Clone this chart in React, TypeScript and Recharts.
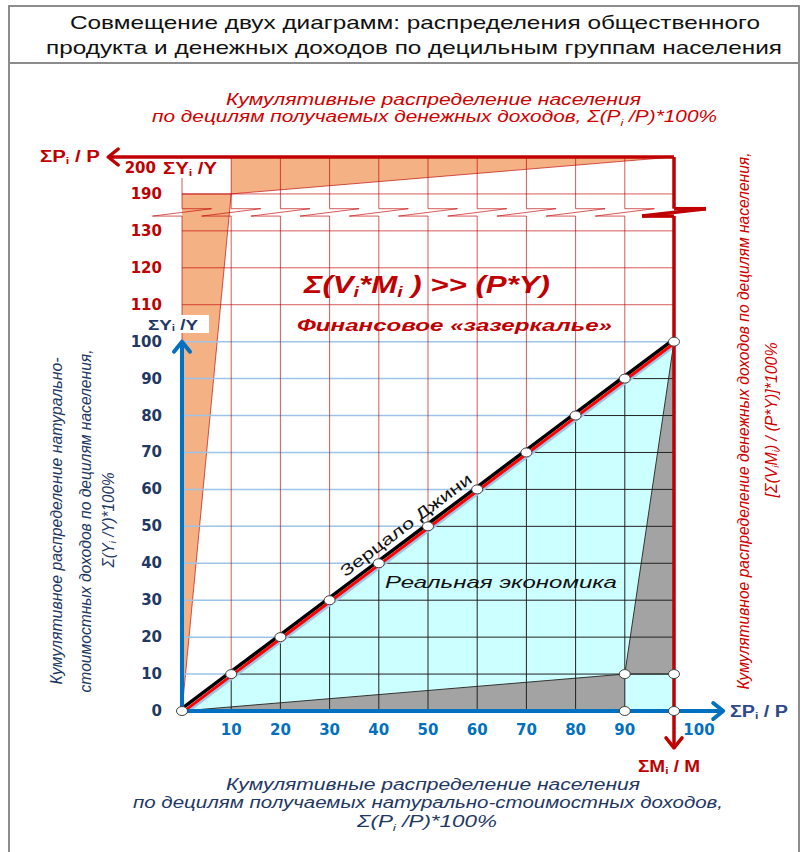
import React from 'react'
import { ComposedChart, XAxis, YAxis, Area, Line, Scatter, ReferenceLine } from 'recharts'

// cumulative share of population by deciles, %
const DECILES = [0, 10, 20, 30, 40, 50, 60, 70, 80, 90, 100]
// "Зерцало Джини" - line of equality, cumulative share of income, %
const EQUALITY = [0, 10, 20, 30, 40, 50, 60, 70, 80, 90, 100]
// grey zone (real economy corners)
const GREY_BOTTOM_X = [0, 90]
const GREY_BOTTOM_Y = [0, 10]
const GREY_RIGHT_X = [90, 100]
const GREY_RIGHT_Y = [10, 100]
const CORNER_X = [90, 100, 90, 100]
const CORNER_Y = [10, 10, 0, 0]
// orange zone (financial "looking-glass"), values on the left scale
const ORANGE_LEFT_X = [0, 10]
const ORANGE_LEFT_Y = [0, 190]
const ORANGE_TOP_X = [10, 100]
const ORANGE_TOP_Y = [190, 200]

// ticks
const LEFT_TICKS = [0, 10, 20, 30, 40, 50, 60, 70, 80, 90, 100, 110, 120, 130, 190, 200]
const RIGHT_TICKS = [0, 40, 50, 60, 70, 80, 90, 100]
const TOP_TICKS = [100, 90, 80, 70, 60, 50, 40, 30, 20, 10, 0]
const BOTTOM_TICKS = [10, 20, 30, 40, 50, 60, 70, 80, 90, 100]
const GRID = [10, 20, 30, 40, 50, 60, 70, 80, 90]
const RED_ROWS = [110, 120, 130, 190]
const RED_COLS = [0, 10, 20, 30, 40, 50, 60, 70, 80, 90]

// left scale is broken between 130 and 190
const leftPos = (v: number) => (v > 150 ? v - 50 : v)
// right scale runs downward, broken between 0 and 40
const rightPos = (v: number) => (v >= 50 ? 2 * (100 - v) : 150 - 0.75 * v)
const TOP = leftPos(200)
const BRK_HI = 136
const BRK_LO = 134
const BRK_W = 6

const NAVY = '#1F3864'
const BLUE = '#0070C0'
const DARK_RED = '#C00000'
const RED_TEXT = '#D00000'
const RED_GRID = 'rgba(192,0,0,0.65)'
const FONT = '"Liberation Sans", Arial, sans-serif'
const TICK_FONT = { fontFamily: '"DejaVu Sans", sans-serif', fontWeight: 700, fontSize: 15 }

const pts = (xs: number[], ys: number[]) => xs.map((x, i) => ({ x, y: ys[i] }))

const diag = pts(DECILES, EQUALITY)
const dots = [...diag, ...pts(CORNER_X, CORNER_Y)]
const cyan = pts(DECILES, EQUALITY).map(p => ({ x: p.x, v: [0, p.y] }))
const greyBottom = GREY_BOTTOM_X.map((x, i) => ({ x, v: [0, GREY_BOTTOM_Y[i]] }))
const greyRight = GREY_RIGHT_X.map((x, i) => ({ x, v: [GREY_BOTTOM_Y[1], GREY_RIGHT_Y[i]] }))
const orangeLeft = ORANGE_LEFT_X.map((x, i) => ({ x, v: [leftPos(ORANGE_LEFT_Y[i]), leftPos(190)] }))
const orangeTop = ORANGE_TOP_X.map((x, i) => ({ x, v: [leftPos(ORANGE_TOP_Y[i]), TOP] }))

function axisShape(color: string, width: number, arrow: boolean) {
  return (p: any) => {
    const { x1, y1, x2, y2 } = p
    let head = null
    if (arrow) {
      const len = Math.hypot(x2 - x1, y2 - y1) || 1
      const ux = (x2 - x1) / len
      const uy = (y2 - y1) / len
      const bx = x2 - ux * 10
      const by = y2 - uy * 10
      head = (
        <path
          d={`M${bx - uy * 8},${by + ux * 8} L${x2},${y2} L${bx + uy * 8},${by - ux * 8}`}
          fill="none" stroke={color} strokeWidth={width} strokeLinecap="round" strokeLinejoin="round"
        />
      )
    }
    return (
      <g>
        <line x1={x1} y1={y1} x2={x2} y2={y2} stroke={color} strokeWidth={width} />
        {head}
      </g>
    )
  }
}

function Seg(a: [number, number], b: [number, number], stroke: string, width = 1, key?: string) {
  return (
    <ReferenceLine
      key={key}
      xAxisId="b"
      yAxisId="l"
      ifOverflow="visible"
      segment={[{ x: a[0], y: a[1] }, { x: b[0], y: b[1] }]}
      stroke={stroke}
      strokeWidth={width}
    />
  )
}

function breakSegs(x: number, stroke: string, width: number, w: number, key: string) {
  return [
    Seg([x, BRK_HI], [x + w, BRK_HI], stroke, width, key + 'a'),
    Seg([x + w, BRK_HI], [x - w, BRK_LO], stroke, width, key + 'b'),
    Seg([x - w, BRK_LO], [x, BRK_LO], stroke, width, key + 'c'),
  ]
}

const LeftTick = (p: any) => {
  const pos = p.payload.value
  const label = LEFT_TICKS.find(v => leftPos(v) === pos)
  const red = (label as number) > 100
  const top = label === 200
  return (
    <text x={top ? p.x - 6 : p.x} y={top ? p.y + 11 : p.y} textAnchor="end" dominantBaseline="central"
      fill={red ? DARK_RED : NAVY} {...TICK_FONT}>{label}</text>
  )
}

const RightTick = (p: any) => {
  const pos = p.payload.value
  const label = RIGHT_TICKS.find(v => rightPos(v) === pos)
  const last = label === 100
  return (
    <text x={last ? p.x - 18 : p.x} y={last ? p.y - 9 : p.y} textAnchor="start" dominantBaseline="central"
      fill={DARK_RED} {...TICK_FONT}>{label}</text>
  )
}

const TopTick = (p: any) => (
  <text x={p.x} y={p.y} textAnchor="middle" dominantBaseline="central" fill={DARK_RED} {...TICK_FONT}>
    {100 - p.payload.value}
  </text>
)

const BottomTick = (p: any) => (
  <text x={p.payload.value === 100 ? p.x + 25 : p.x} y={p.y} textAnchor="middle" dominantBaseline="central"
    fill={BLUE} {...TICK_FONT}>{p.payload.value}</text>
)

const DotShape = (p: any) => (
  <ellipse cx={p.cx} cy={p.cy} rx={5.5} ry={4.5} fill="#fff" stroke="#404040" strokeWidth={1} />
)

function Overlay() {
  const sub = (c: string, size = '0.62em') => [
    <tspan key="s" fontSize={size} dy={4}>{c}</tspan>,
    <tspan key="r" dy={-4}>{''}</tspan>,
  ]
  return (
    <svg width={804} height={852} style={{ position: 'absolute', left: 0, top: 0, pointerEvents: 'none' }}
      fontFamily={FONT}>
      <rect x={9} y={6} width={790} height={870} fill="none" stroke="#8c8c8c" strokeWidth={2} />
      <line x1={9} y1={63} x2={799} y2={63} stroke="#8c8c8c" strokeWidth={2} />
      <text x={70} y={29} fontSize={19} fill="#111" textLength={690} lengthAdjust="spacingAndGlyphs">
        Совмещение двух диаграмм: распределения общественного
      </text>
      <text x={46} y={54} fontSize={19} fill="#111" textLength={736} lengthAdjust="spacingAndGlyphs">
        продукта и денежных доходов по децильным группам населения
      </text>

      <g fontStyle="italic" fontSize={16} fill={RED_TEXT}>
        <text x={226} y={105} textLength={415} lengthAdjust="spacingAndGlyphs">
          Кумулятивные  распределение населения
        </text>
        <text x={152} y={122} textLength={565} lengthAdjust="spacingAndGlyphs">
          по децилям получаемых денежных доходов, Σ(P{sub('i')}<tspan dy={-4}> /P)*100%</tspan>
        </text>
      </g>

      <g fontStyle="italic" fontSize={16} fill={NAVY}>
        <text x={226} y={790} textLength={414} lengthAdjust="spacingAndGlyphs">
          Кумулятивные  распределение населения
        </text>
        <text x={133} y={808} textLength={590} lengthAdjust="spacingAndGlyphs">
          по децилям получаемых натурально-стоимостных доходов,
        </text>
        <text x={357} y={827} textLength={140} lengthAdjust="spacingAndGlyphs">
          Σ(P{sub('i')}<tspan dy={-4}> /P)*100%</tspan>
        </text>
      </g>

      <g fontStyle="italic" fontSize={16} fill={NAVY} textAnchor="middle" dominantBaseline="central">
        <text x={56} y={521} transform="rotate(-90 56 521)" textLength={327} lengthAdjust="spacingAndGlyphs">
          Кумулятивное распределение натурально-
        </text>
        <text x={85} y={521} transform="rotate(-90 85 521)" textLength={343} lengthAdjust="spacingAndGlyphs">
          стоимостных доходов по децилям населения,
        </text>
        <text x={108} y={520} transform="rotate(-90 108 520)" textLength={95} lengthAdjust="spacingAndGlyphs">
          Σ(Y{sub('i')}<tspan dy={-4}> /Y)*100%</tspan>
        </text>
      </g>

      <g fontStyle="italic" fontSize={16} fill={RED_TEXT} textAnchor="middle" dominantBaseline="central">
        <text x={743} y={421} transform="rotate(-90 743 421)" textLength={537} lengthAdjust="spacingAndGlyphs">
          Кумулятивное распределение денежных доходов по децилям населения,
        </text>
        <text x={771} y={420} transform="rotate(-90 771 420)" textLength={155} lengthAdjust="spacingAndGlyphs">
          [Σ(V{sub('i')}<tspan dy={-4}>M</tspan>{sub('i')}<tspan dy={-4}>) / (P*Y)]*100%</tspan>
        </text>
      </g>

      <text x={304} y={293} fontSize={24} fontWeight={700} fontStyle="italic" fill={DARK_RED}
        textLength={246} lengthAdjust="spacingAndGlyphs">
        Σ(V{sub('i')}<tspan dy={-4}>*M</tspan>{sub('i')}<tspan dy={-4}> ) &gt;&gt; (P*Y)</tspan>
      </text>
      <text x={297} y={331} fontSize={17} fontWeight={700} fontStyle="italic" fill={DARK_RED}
        textLength={315} lengthAdjust="spacingAndGlyphs">
        Финансовое «зазеркалье»
      </text>
      <text x={406} y={525} fontSize={16} fill="#111" textAnchor="middle" dominantBaseline="central"
        transform="rotate(-36.9 406 525)" textLength={160} lengthAdjust="spacingAndGlyphs">
        Зерцало Джини
      </text>
      <text x={385} y={588} fontSize={17} fontStyle="italic" fill="#111" textLength={232}
        lengthAdjust="spacingAndGlyphs">
        Реальная экономика
      </text>

      <g fontWeight={700} fontSize={15} dominantBaseline="central">
        <rect x={145} y={315} width={64} height={18} fill="#fff" />
        <text x={148} y={324} fill={NAVY} textLength={50} lengthAdjust="spacingAndGlyphs">
          ΣY{sub('i')}<tspan dy={-4}> /Y</tspan>
        </text>
      </g>
      <g fontWeight={700} fontSize={16} dominantBaseline="central">
        <rect x={161} y={159} width={58} height={19} fill="#fff" />
        <text x={163} y={168} fill={DARK_RED} textLength={54} lengthAdjust="spacingAndGlyphs">
          ΣY{sub('i')}<tspan dy={-4}> /Y</tspan>
        </text>
        <text x={40} y={156} fill={DARK_RED} textLength={60} lengthAdjust="spacingAndGlyphs">
          ΣP{sub('i')}<tspan dy={-4}> / P</tspan>
        </text>
        <text x={730} y={711} fill="#2E4A8C" textLength={58} lengthAdjust="spacingAndGlyphs">
          ΣP{sub('i')}<tspan dy={-4}> / P</tspan>
        </text>
        <text x={638} y={766} fill={DARK_RED} textLength={62} lengthAdjust="spacingAndGlyphs">
          ΣM{sub('i')}<tspan dy={-4}> / M</tspan>
        </text>
      </g>
    </svg>
  )
}

export default function App() {
  return (
    <div style={{ position: 'absolute', left: 0, top: 0, width: 804, height: 852, background: '#fff' }}>
      <ComposedChart width={804} height={852} margin={{ top: 127, right: 70, bottom: 111, left: 132 }}>
        <XAxis xAxisId="b" dataKey="x" type="number" domain={[0, 100]} ticks={BOTTOM_TICKS}
          axisLine={false} tickLine={false} tickSize={0} tickMargin={19} height={30} tick={BottomTick} />
        <XAxis xAxisId="t" orientation="top" dataKey="x" type="number" domain={[0, 100]}
          ticks={TOP_TICKS.map(v => 100 - v)} axisLine={false} tickLine={false} tickSize={0} tickMargin={20}
          height={30} tick={TopTick} />
        <YAxis yAxisId="l" type="number" domain={[0, TOP]} ticks={LEFT_TICKS.map(leftPos)}
          axisLine={false} tickLine={false} tickSize={0} tickMargin={20} width={50} tick={LeftTick} />
        <YAxis yAxisId="r" orientation="right" type="number" domain={[0, TOP]} ticks={RIGHT_TICKS.map(rightPos)}
          axisLine={false} tickLine={false} tickSize={0} tickMargin={24} width={60} tick={RightTick} />

        {/* filled zones */}
        <Area xAxisId="b" yAxisId="l" data={cyan} dataKey="v" type="linear" fill="#CCFFFF" fillOpacity={1}
          stroke="none" dot={false} activeDot={false} isAnimationActive={false} />
        <Area xAxisId="b" yAxisId="l" data={greyBottom} dataKey="v" type="linear" fill="#A3A3A3" fillOpacity={1}
          stroke="#333" strokeWidth={1} dot={false} activeDot={false} isAnimationActive={false} />
        <Area xAxisId="b" yAxisId="l" data={greyRight} dataKey="v" type="linear" fill="#A3A3A3" fillOpacity={1}
          stroke="#333" strokeWidth={1} dot={false} activeDot={false} isAnimationActive={false} />
        <Area xAxisId="b" yAxisId="l" data={orangeLeft} dataKey="v" type="linear" fill="#F4B183" fillOpacity={1}
          stroke={RED_GRID} strokeWidth={1} dot={false} activeDot={false} isAnimationActive={false} />
        <Area xAxisId="b" yAxisId="l" data={orangeTop} dataKey="v" type="linear" fill="#F4B183" fillOpacity={1}
          stroke={RED_GRID} strokeWidth={1} dot={false} activeDot={false} isAnimationActive={false} />

        {/* grid: light blue above the diagonal, black below it */}
        {[...GRID, 100].map(g => Seg([0, g], [g, g], '#9DC3E6', 1.5, 'lb' + g))}
        {GRID.map(g => Seg([g, g], [100, g], '#222', 1, 'bh' + g))}
        {GRID.map(g => Seg([g, 0], [g, g], '#222', 1, 'bv' + g))}

        {/* red grid of the money scale */}
        {RED_ROWS.map(r => Seg([0, leftPos(r)], [100, leftPos(r)], RED_GRID, 1, 'rh' + r))}
        {RED_COLS.map(c => Seg([c, TOP], [c, BRK_HI], RED_GRID, 1, 'rt' + c))}
        {RED_COLS.map(c => Seg([c, BRK_LO], [c, Math.max(c, 100 * +(c === 0))], RED_GRID, 1, 'rb' + c))}
        {RED_COLS.map(c => breakSegs(c, RED_GRID, 1, BRK_W, 'br' + c))}

        {/* line of equality */}
        <Line xAxisId="b" yAxisId="l" data={diag} dataKey="y" type="linear" stroke="#9DC3E6" strokeWidth={3}
          dot={false} activeDot={false} isAnimationActive={false} transform="translate(2.2,3)" />
        <Line xAxisId="b" yAxisId="l" data={diag} dataKey="y" type="linear" stroke="#000" strokeWidth={3.5}
          dot={false} activeDot={false} isAnimationActive={false} transform="translate(-1.2,-1.6)" />
        <Line xAxisId="b" yAxisId="l" data={diag} dataKey="y" type="linear" stroke="#FF0000" strokeWidth={3}
          dot={false} activeDot={false} isAnimationActive={false} transform="translate(0.8,1.1)" />

        {/* axes */}
        <ReferenceLine xAxisId="b" yAxisId="l" ifOverflow="visible" segment={[{ x: 0, y: 0 }, { x: 110, y: 0 }]}
          shape={axisShape(BLUE, 4, true)} />
        <ReferenceLine xAxisId="b" yAxisId="l" ifOverflow="visible" segment={[{ x: 0, y: 0 }, { x: 0, y: 100 }]}
          shape={axisShape(BLUE, 4, true)} />
        <ReferenceLine xAxisId="b" yAxisId="l" ifOverflow="visible" segment={[{ x: 100, y: TOP }, { x: -15, y: TOP }]}
          shape={axisShape(DARK_RED, 3.5, true)} />
        <ReferenceLine xAxisId="b" yAxisId="l" ifOverflow="visible" segment={[{ x: 100, y: TOP }, { x: 100, y: BRK_HI }]}
          shape={axisShape(DARK_RED, 3.5, false)} />
        {breakSegs(100, DARK_RED, 3.5, 6.5, 'rax')}
        <ReferenceLine xAxisId="b" yAxisId="l" ifOverflow="visible" segment={[{ x: 100, y: BRK_LO }, { x: 100, y: -10 }]}
          shape={axisShape(DARK_RED, 3.5, true)} />

        <Scatter xAxisId="b" yAxisId="l" data={dots} dataKey="y" shape={DotShape} isAnimationActive={false} />
      </ComposedChart>
      <Overlay />
    </div>
  )
}
